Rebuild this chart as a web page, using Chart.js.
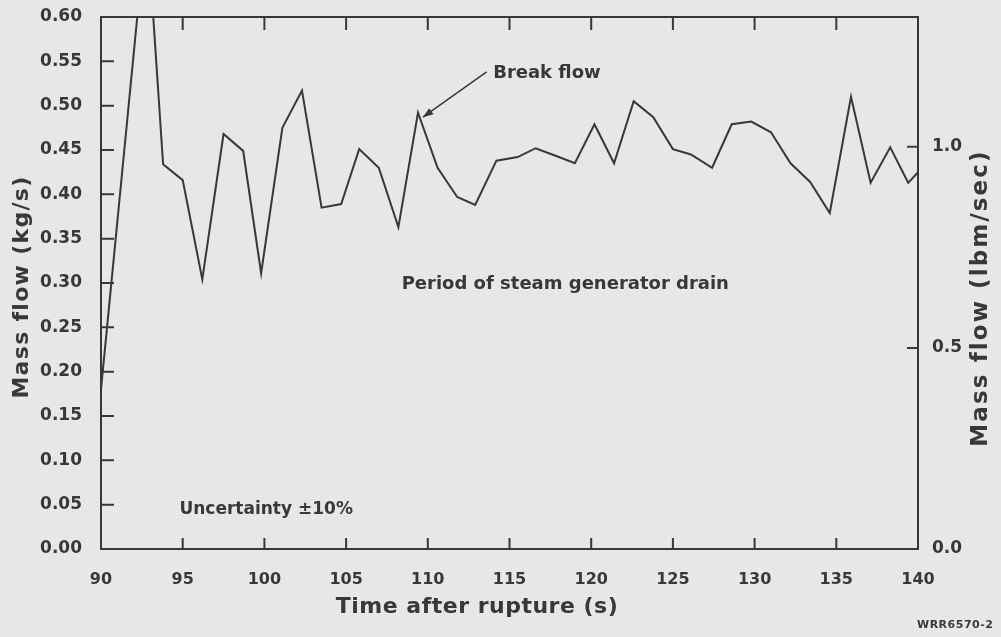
<!DOCTYPE html>
<html>
<head>
<meta charset="utf-8">
<script src="https://cdn.jsdelivr.net/npm/chart.js@4.4.1/dist/chart.umd.min.js"></script>
<style>
  body { margin: 0; background: #e7e7e5; }
  canvas { display: block; }
</style>
</head>
<body>
<canvas id="flowChart" width="1001" height="637"></canvas>
<script>
// break flow (time in s, mass flow in kg/s)
const times = [90.0, 92.8, 93.8, 95.0, 96.2, 97.5, 98.7, 99.8, 101.1, 102.3, 103.5, 104.7, 105.8, 107.0,
  108.2, 109.4, 110.6, 111.8, 112.9, 114.2, 115.5, 116.6, 117.9, 119.0, 120.2, 121.4, 122.6, 123.8,
  125.0, 126.1, 127.4, 128.6, 129.8, 131.0, 132.2, 133.4, 134.6, 135.9, 137.1, 138.3, 139.4, 140.0];
const flows = [0.18, 0.71, 0.434, 0.416, 0.304, 0.468, 0.449, 0.311, 0.475, 0.517, 0.385, 0.389, 0.451, 0.430,
  0.363, 0.492, 0.430, 0.397, 0.388, 0.438, 0.442, 0.452, 0.443, 0.435, 0.479, 0.435, 0.505, 0.487,
  0.451, 0.445, 0.430, 0.479, 0.482, 0.470, 0.435, 0.414, 0.379, 0.510, 0.413, 0.453, 0.413, 0.425];

const timeTicks = [90, 95, 100, 105, 110, 115, 120, 125, 130, 135, 140];
const kgTicks = [0.00, 0.05, 0.10, 0.15, 0.20, 0.25, 0.30, 0.35, 0.40, 0.45, 0.50, 0.55, 0.60];
const lbmTicks = [0.0, 0.5, 1.0];

const KG_PER_LBM = 0.45359237;
const ink = "#383838";
const font = "'DejaVu Sans', sans-serif";

function spaced(ctx, spacing) {
  if ("letterSpacing" in ctx) ctx.letterSpacing = spacing + "px";
}

// frame + ticks pointing into the plot, like the original
const framePlugin = {
  id: "frame",
  afterDraw(chart) {
    const ctx = chart.ctx;
    const a = chart.chartArea;
    const x = chart.scales.x, y = chart.scales.y, y2 = chart.scales.y2;
    ctx.save();
    ctx.strokeStyle = ink;
    ctx.lineWidth = 2;
    ctx.strokeRect(a.left, a.top, a.right - a.left, a.bottom - a.top);
    ctx.beginPath();
    timeTicks.slice(1, -1).forEach(function (t) {
      const px = x.getPixelForValue(t);
      ctx.moveTo(px, a.bottom); ctx.lineTo(px, a.bottom - 11);
      ctx.moveTo(px, a.top); ctx.lineTo(px, a.top + 13);
    });
    kgTicks.slice(1, -1).forEach(function (v) {
      const py = y.getPixelForValue(v);
      ctx.moveTo(a.left, py); ctx.lineTo(a.left + 13, py);
    });
    lbmTicks.slice(1).forEach(function (v) {
      const py = y2.getPixelForValue(v);
      ctx.moveTo(a.right, py); ctx.lineTo(a.right - 11, py);
    });
    ctx.stroke();

    // texts
    ctx.fillStyle = ink;
    ctx.textBaseline = "middle";
    ctx.textAlign = "left";
    ctx.font = "bold 18px " + font;
    ctx.fillText("Break flow", x.getPixelForValue(114.0), y.getPixelForValue(0.537));
    ctx.fillText("Period of steam generator drain", x.getPixelForValue(108.4), y.getPixelForValue(0.299));
    ctx.font = "bold 17px " + font;
    ctx.fillText("Uncertainty \u00b110%", x.getPixelForValue(94.8), y.getPixelForValue(0.044));

    // arrow to the break flow line
    const tx = x.getPixelForValue(109.7), ty = y.getPixelForValue(0.487);
    const sx = x.getPixelForValue(113.6), sy = y.getPixelForValue(0.538);
    ctx.lineWidth = 1.5;
    ctx.beginPath();
    ctx.moveTo(sx, sy); ctx.lineTo(tx, ty);
    ctx.stroke();
    const ang = Math.atan2(ty - sy, tx - sx);
    ctx.beginPath();
    ctx.moveTo(tx, ty);
    ctx.lineTo(tx - 11 * Math.cos(ang - 0.35), ty - 11 * Math.sin(ang - 0.35));
    ctx.lineTo(tx - 11 * Math.cos(ang + 0.35), ty - 11 * Math.sin(ang + 0.35));
    ctx.closePath();
    ctx.fill();

    // axis titles
    ctx.textAlign = "center";
    ctx.font = "bold 22px " + font;
    spaced(ctx, 0.5);
    ctx.fillText("Time after rupture (s)", 477, 607);
    ctx.save();
    ctx.translate(22, 287);
    ctx.rotate(-Math.PI / 2);
    spaced(ctx, 1.3);
    ctx.fillText("Mass flow (kg/s)", 0, 0);
    ctx.restore();
    ctx.save();
    ctx.translate(981, 298);
    ctx.rotate(-Math.PI / 2);
    ctx.font = "bold 23px " + font;
    spaced(ctx, 2.1);
    ctx.fillText("Mass flow (lbm/sec)", 0, 0);
    ctx.restore();

    ctx.font = "bold 11px " + font;
    ctx.textAlign = "left";
    spaced(ctx, 0.5);
    ctx.fillText("WRR6570-2", 917, 625);
    ctx.restore();
  }
};

new Chart("flowChart", {
  type: "line",
  data: {
    datasets: [{
      label: "Break flow",
      data: times.map(function (t, i) { return { x: t, y: flows[i] }; }),
      borderColor: ink,
      borderWidth: 2,
      pointRadius: 0,
      tension: 0,
      fill: false
    }]
  },
  options: {
    responsive: false,
    animation: false,
    layout: { padding: { top: 17 } },
    plugins: { legend: { display: false }, tooltip: { enabled: false } },
    scales: {
      x: {
        type: "linear",
        min: 90, max: 140,
        grid: { display: false, drawTicks: false },
        border: { display: false },
        afterBuildTicks: function (s) { s.ticks = timeTicks.map(function (v) { return { value: v }; }); },
        afterFit: function (s) { s.height = 88; s.paddingLeft = 0; s.paddingRight = 0; },
        ticks: { color: ink, padding: 21, font: { family: font, size: 16, weight: "bold" } }
      },
      y: {
        min: 0, max: 0.6,
        grid: { display: false, drawTicks: false },
        border: { display: false },
        afterBuildTicks: function (s) { s.ticks = kgTicks.map(function (v) { return { value: v }; }); },
        afterFit: function (s) { s.width = 101; s.paddingTop = 0; s.paddingBottom = 0; },
        ticks: {
          color: ink, padding: 19, font: { family: font, size: 17, weight: "bold" },
          callback: function (v) { return v.toFixed(2); }
        }
      },
      y2: {
        position: "right",
        min: 0, max: 0.6 / KG_PER_LBM,
        grid: { display: false, drawTicks: false },
        border: { display: false },
        afterBuildTicks: function (s) { s.ticks = lbmTicks.map(function (v) { return { value: v }; }); },
        afterFit: function (s) { s.width = 83; s.paddingTop = 0; s.paddingBottom = 0; },
        ticks: {
          color: ink, padding: 14, font: { family: font, size: 17, weight: "bold" },
          callback: function (v) { return v.toFixed(1); }
        }
      }
    }
  },
  plugins: [framePlugin]
});
</script>
</body>
</html>
